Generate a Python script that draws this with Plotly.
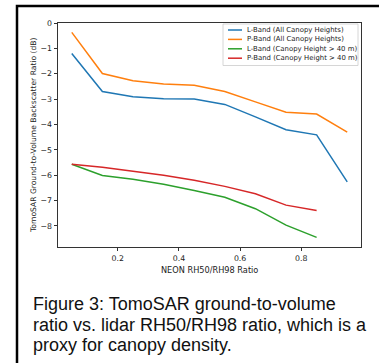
import plotly.graph_objects as go

x_ratio = [0.05, 0.15, 0.25, 0.35, 0.45, 0.55, 0.65, 0.75, 0.85, 0.95]
l_band_all = [-1.20, -2.70, -2.91, -2.99, -3.00, -3.21, -3.70, -4.21, -4.41, -6.26]
p_band_all = [-0.37, -1.99, -2.28, -2.40, -2.45, -2.70, -3.11, -3.52, -3.59, -4.30]
x_tall = [0.05, 0.15, 0.25, 0.35, 0.45, 0.55, 0.65, 0.75, 0.85]
l_band_tall = [-5.57, -6.01, -6.16, -6.36, -6.60, -6.87, -7.32, -7.97, -8.45]
p_band_tall = [-5.57, -5.69, -5.84, -6.00, -6.20, -6.44, -6.73, -7.18, -7.39]

names = ["L-Band (All Canopy Heights)", "P-Band (All Canopy Heights)",
         "L-Band (Canopy Height > 40 m)", "P-Band (Canopy Height > 40 m)"]
colors = ["#1f77b4", "#ff7f0e", "#2ca02c", "#d62728"]
x_ticks = [0.2, 0.4, 0.6, 0.8]
x_tick_text = ["0.2", "0.4", "0.6", "0.8"]
y_ticks = [0, -1, -2, -3, -4, -5, -6, -7, -8]
caption_lines = ["Figure 3: TomoSAR ground-to-volume",
                 "ratio vs. lidar RH50/RH98 ratio, which is a",
                 "proxy for canopy density."]

W, H = 379, 363
L, R, T, B = 58, 361, 23, 247


def px(xp):
    return (xp - L) / (R - L)


def py(yp):
    return (B - yp) / (B - T)


fig = go.Figure()
series = [(x_ratio, l_band_all), (x_ratio, p_band_all), (x_tall, l_band_tall), (x_tall, p_band_tall)]
for (xs, ys), n, c in zip(series, names, colors):
    fig.add_trace(go.Scatter(x=xs, y=ys, mode="lines", name=n,
                             line=dict(color=c, width=1.5), showlegend=False, hoverinfo="skip"))

shapes = []
annotations = []
# outer frame
shapes.append(dict(type="rect", xref="paper", yref="paper",
                   x0=px(17), x1=px(420), y0=py(6), y1=py(420),
                   line=dict(color="black", width=2.5), fillcolor="rgba(0,0,0,0)", layer="above"))
# legend box
shapes.append(dict(type="rect", xref="paper", yref="paper",
                   x0=px(223), x1=px(358), y0=py(24), y1=py(65.5),
                   line=dict(color="#cccccc", width=0.8), fillcolor="rgba(255,255,255,0.8)", layer="above"))
legend_y = [30, 39.4, 48.8, 58.2]
for n, c, yy in zip(names, colors, legend_y):
    shapes.append(dict(type="line", xref="paper", yref="paper",
                       x0=px(228), x1=px(242), y0=py(yy), y1=py(yy),
                       line=dict(color=c, width=1.5), layer="above"))
    annotations.append(dict(text=n, xref="paper", yref="paper", x=px(244.5), y=py(yy),
                            xanchor="left", yanchor="middle", showarrow=False,
                            font=dict(family="DejaVu Sans", size=6.9, color="#222")))

# axis titles
annotations.append(dict(text="NEON RH50/RH98 Ratio", xref="paper", yref="paper",
                        x=0.5, y=py(270), xanchor="center", yanchor="middle", showarrow=False,
                        font=dict(family="DejaVu Sans", size=8.2, color="#222")))
annotations.append(dict(text="TomoSAR Ground-to-Volume Backscatter Ratio (dB)", xref="paper", yref="paper",
                        x=px(33), y=0.5, xanchor="center", yanchor="middle", showarrow=False, textangle=-90,
                        font=dict(family="DejaVu Sans", size=7.6, color="#222")))
# caption
for line, yy in zip(caption_lines, [304, 324.5, 345]):
    annotations.append(dict(text=line, xref="paper", yref="paper", x=px(31), y=py(yy),
                            xanchor="left", yanchor="middle", align="left", showarrow=False,
                            font=dict(family="Liberation Sans", size=18, color="#111")))

fig.update_layout(
    width=W, height=H,
    margin=dict(l=L, r=W - R, t=T, b=H - B),
    paper_bgcolor="white", plot_bgcolor="white",
    showlegend=False, hovermode=False,
    shapes=shapes, annotations=annotations,
    xaxis=dict(range=[0.005, 0.995], tickvals=x_ticks, ticktext=x_tick_text,
               showgrid=False, zeroline=False, showline=True, mirror=True,
               linecolor="#333", linewidth=0.8, ticks="outside", ticklen=3.5, tickwidth=0.8,
               tickcolor="#333", tickfont=dict(family="DejaVu Sans", size=7.8, color="#222")),
    yaxis=dict(range=[-8.83, 0], tickvals=y_ticks,
               showgrid=False, zeroline=False, showline=True, mirror=True,
               linecolor="#333", linewidth=0.8, ticks="outside", ticklen=3.5, tickwidth=0.8,
               tickcolor="#333", tickfont=dict(family="DejaVu Sans", size=7.8, color="#222")),
)

fig.write_html("out.html", config={"displayModeBar": False},
               post_script="document.body.style.margin='0px';")
